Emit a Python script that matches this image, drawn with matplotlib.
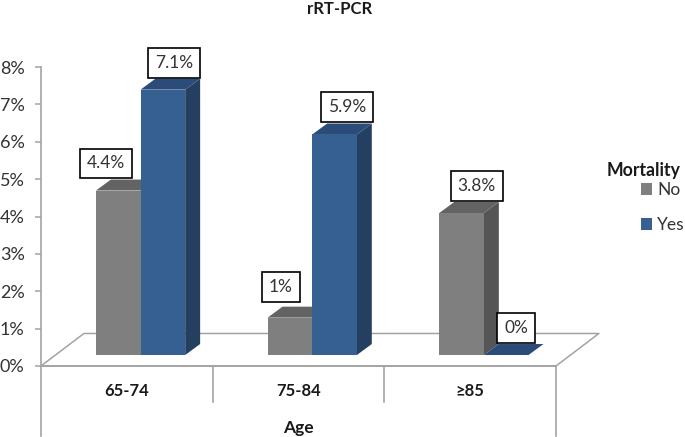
import matplotlib
matplotlib.use('Agg')
import numpy as np
import matplotlib.pyplot as plt

plt.rcParams['font.family'] = ['Lato', 'DejaVu Sans']

age_groups = ['65-74', '75-84', '≥85']
no_values = [4.4, 1.0, 3.8]
yes_values = [7.1, 5.9, 0.0]
no_labels = ['4.4%', '1%', '3.8%']
yes_labels = ['7.1%', '5.9%', '0%']
y_ticks = [0, 1, 2, 3, 4, 5, 6, 7, 8]

# 3d look, in data units (x = one category per unit, y = percent)
bar_w = 0.26
bar_shift = 0.08
base = 0.294
depth_x = 0.087
depth_y = 0.294
floor_x = 0.25
floor_y = 0.87

grey = ['#7f7f7f', '#636363', '#555555']
blue = ['#376092', '#2b4b78', '#243f60']
axis_col = '#a3a3a3'
text_col = '#333333'

W, H = 685, 437
fig = plt.figure(figsize=(W/100, H/100), dpi=100)
ax = fig.add_axes([41/W, (H-366)/H, 515/W, 299/H])
ax.set_xlim(0, 3)
ax.set_ylim(0, 8)
ax.patch.set_visible(False)


def draw_bar(x0, val, cols, name):
    top = base+val
    x1 = x0+bar_w
    ax.fill([x1, x1+depth_x, x1+depth_x, x1], [base, base+depth_y, top+depth_y, top],
            color=cols[2], lw=0, zorder=3, clip_on=False)
    ax.fill([x0, x1, x1+depth_x, x0+depth_x], [top, top, top+depth_y, top+depth_y],
            color=cols[1], lw=0, zorder=3, clip_on=False)
    return ax.bar(x0, val, bar_w, bottom=base, align='edge', color=cols[0], lw=0,
                  zorder=3, clip_on=False, label=name)


x = np.arange(3)+0.5+bar_shift
for i in range(3):
    h_no = draw_bar(x[i]-bar_w, no_values[i], grey, 'No')
    h_yes = draw_bar(x[i], yes_values[i], blue, 'Yes')

# floor
ax.plot([0, floor_x, 3+floor_x, 3], [0, floor_y, floor_y, 0], color=axis_col, lw=1.1,
        zorder=1, clip_on=False)
ax.plot([0, 3], [0, 0], color=axis_col, lw=1.4, zorder=2, clip_on=False)
ax.plot([0, 0], [0, -1.87], color=axis_col, lw=1.2, clip_on=False)
ax.plot([3, 3], [0, -1.87], color=axis_col, lw=1.2, clip_on=False)
ax.plot([1, 1], [0, -0.96], color=axis_col, lw=1.2, clip_on=False)
ax.plot([2, 2], [0, -0.96], color=axis_col, lw=1.2, clip_on=False)

ax.spines['top'].set_visible(False)
ax.spines['right'].set_visible(False)
ax.spines['bottom'].set_visible(False)
ax.spines['left'].set_color(axis_col)
ax.spines['left'].set_linewidth(1.2)
ax.set_yticks(y_ticks)
ax.set_yticklabels(['{:d}%'.format(t) for t in y_ticks], fontsize=13, color=text_col)
ax.tick_params(axis='y', length=4.3, width=1.1, color=axis_col, pad=7.5)
ax.set_xticks([])

for i, lab in enumerate(age_groups):
    ax.annotate(lab, xy=(i+0.5, 0), xytext=(0, -18), textcoords='offset points',
                ha='center', va='center', fontsize=12, fontweight='bold', color='#1a1a1a',
                annotation_clip=False)
ax.annotate('Age', xy=(1.5, 0), xytext=(0, -44.5), textcoords='offset points', ha='center',
            va='center', fontsize=12.5, fontweight='bold', color='#1a1a1a', annotation_clip=False)
fig.text(340/W, 1-9/H, 'rRT-PCR', ha='center', va='center', fontsize=12, fontweight='bold',
         color='#1a1a1a')

# value boxes, offsets from the middle of each bar top in points
no_off = [(-9, 19.5), (-6.5, 22), (11, 19.5)]
yes_off = [(8, 19.5), (9, 20), (7, 19.5)]
box = dict(boxstyle='square,pad=0.4', fc='white', ec='black', lw=1.2)
for i in range(3):
    ax.annotate(no_labels[i], xy=(x[i]-bar_w/2, base+no_values[i]), xytext=no_off[i],
                textcoords='offset points', ha='center', va='center', fontsize=12.5,
                color=text_col, bbox=box, zorder=5, annotation_clip=False)
    ax.annotate(yes_labels[i], xy=(x[i]+bar_w/2, base+yes_values[i]), xytext=yes_off[i],
                textcoords='offset points', ha='center', va='center', fontsize=12.5,
                color=text_col, bbox=box, zorder=5, annotation_clip=False)

fig.text(680/W, 1-170/H, 'Mortality', ha='right', va='center', fontsize=12.7, fontweight='bold',
         color='#1a1a1a')
leg = fig.legend([h_no, h_yes], ['No', 'Yes'], frameon=False,
                 loc='upper right', bbox_to_anchor=(685/W, 1-182/H), fontsize=12.5,
                 handlelength=0.63, handleheight=0.63, handletextpad=0.3, labelspacing=1.1,
                 borderpad=0, borderaxespad=0)
for t in leg.get_texts():
    t.set_color(text_col)

fig.savefig('out.png', dpi=100)
